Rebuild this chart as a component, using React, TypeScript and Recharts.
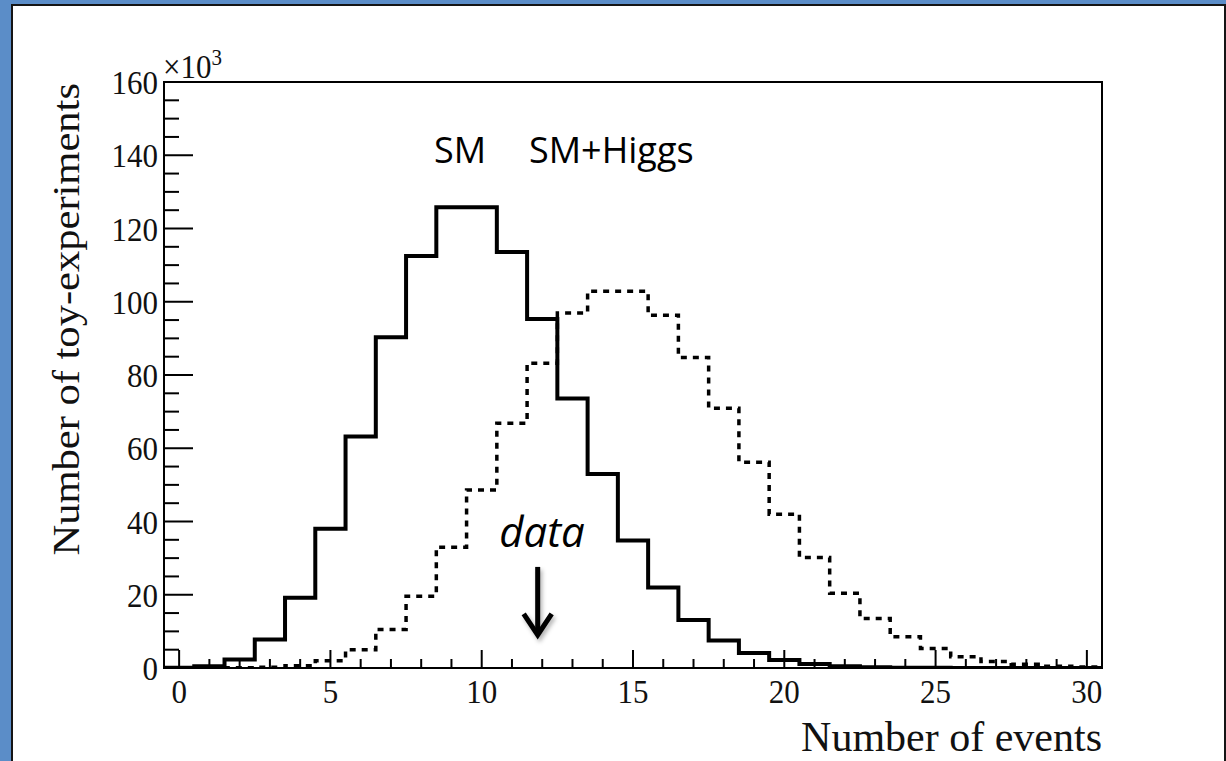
import React from 'react';
import { ComposedChart, Line, XAxis, YAxis, ReferenceArea, ReferenceLine } from 'recharts';

// toy-experiment counts (x10^3) per bin, one bin per integer number of events 0..30
const EVENTS = [0, 1, 2, 3, 4, 5, 6, 7, 8, 9, 10, 11, 12, 13, 14, 15, 16, 17, 18, 19, 20, 21, 22, 23, 24, 25, 26, 27, 28, 29, 30];
const SM_TOYS = [0.05, 0.45, 2.3, 7.8, 19.2, 38.0, 63.2, 90.3, 112.5, 125.8, 125.8, 113.6, 95.3, 73.6, 53.0, 34.8, 22.0, 13.1, 7.5, 4.1, 2.2, 1.1, 0.5, 0.2, 0.1, 0.04, 0.02, 0, 0, 0, 0];
const SMH_TOYS = [0, 0, 0.05, 0.2, 0.6, 2.0, 5.0, 10.5, 19.6, 33.0, 48.6, 66.8, 83.2, 96.9, 102.9, 102.9, 96.3, 84.8, 70.9, 56.2, 42.0, 30.2, 20.4, 13.5, 8.5, 5.3, 3.1, 1.8, 1.0, 0.5, 0.3];

// observed number of events, where the "data" arrow points
const DATA_OBS = 11.85;
const ARROW_FROM = 27.6;
const ARROW_TO = 8.5;

const X_TICKS = EVENTS;
const Y_TICKS = [0, 5, 10, 15, 20, 25, 30, 35, 40, 45, 50, 55, 60, 65, 70, 75, 80, 85, 90, 95, 100, 105, 110, 115, 120, 125, 130, 135, 140, 145, 150, 155, 160];

const SERIF = '"Liberation Serif", "Times New Roman", serif';
const SANS = '"Open Sans", "Noto Sans", sans-serif';
// the pasted figure is a bit stretched vertically
const STRETCH = 1.12;

// step histogram: one point per lower bin edge, plus the closing upper edge
const histRows = EVENTS.map((n, i) => ({ edge: n - 0.5, sm: SM_TOYS[i], smh: SMH_TOYS[i] }));
histRows.push({ edge: 30.5, sm: SM_TOYS[30], smh: SMH_TOYS[30] });

const XTick = (props: any) => {
  const { x, y, payload } = props;
  const v = payload.value;
  const major = v % 5 === 0;
  return (
    <g>
      <line x1={x} y1={y} x2={x} y2={y - (major ? 18 : 9)} stroke="#000" strokeWidth={2} />
      {major && (
        <g transform={`translate(${x} ${y + 35}) scale(1 ${STRETCH})`}>
          <text x={0} y={0} textAnchor="middle" fontFamily={SERIF} fontSize={31} fill="#111">
            {v}
          </text>
        </g>
      )}
    </g>
  );
};

const YTick = (props: any) => {
  const { x, y, payload } = props;
  const v = payload.value;
  const major = v % 20 === 0;
  return (
    <g>
      <line x1={x} y1={y} x2={x + (major ? 29 : 15)} y2={y} stroke="#000" strokeWidth={2} />
      {major && (
        <g transform={`translate(${x - 6} ${y + 12}) scale(1 ${STRETCH})`}>
          <text x={0} y={0} textAnchor="end" fontFamily={SERIF} fontSize={31} fill="#111">
            {v}
          </text>
        </g>
      )}
      {v === 160 && (
        <g transform={`translate(${x - 1} ${y - 4}) scale(1 ${STRETCH})`}>
          <text x={0} y={0} fontFamily={SERIF} fontSize={31} fill="#111">
            ×10
            <tspan fontSize={21} dy={-12}>3</tspan>
          </text>
        </g>
      )}
    </g>
  );
};

const DataArrow = (props: any) => {
  const { x1, y1, x2, y2 } = props;
  return (
    <g filter="url(#arrowShadow)">
      <defs>
        <filter id="arrowShadow" x="-50%" y="-20%" width="200%" height="150%">
          <feDropShadow dx={2} dy={3} stdDeviation={2} floodColor="#000" floodOpacity={0.3} />
        </filter>
      </defs>
      <line x1={x1} y1={y1} x2={x2} y2={y2 - 3} stroke="#000" strokeWidth={5} />
      <polyline
        points={`${x2 - 14},${y2 - 23} ${x2},${y2 - 2} ${x2 + 14},${y2 - 23}`}
        fill="none"
        stroke="#000"
        strokeWidth={5}
      />
    </g>
  );
};

export default function App() {
  return (
    <div style={{ position: 'fixed', left: 0, top: 0, width: 1226, height: 761, background: '#5b8dc8', overflow: 'hidden' }}>
      <div
        style={{
          position: 'absolute',
          left: 11,
          top: 4,
          width: 1215,
          height: 800,
          background: '#fff',
          border: '2px solid #151515',
          boxSizing: 'border-box',
        }}
      />
      <div style={{ position: 'absolute', left: 0, top: 0 }}>
        <ComposedChart width={1226} height={761} data={histRows} margin={{ top: 82, right: 124, bottom: 0, left: 0 }}>
          <XAxis
            dataKey="edge"
            type="number"
            domain={[-0.5, 30.5]}
            ticks={X_TICKS}
            interval={0}
            allowDataOverflow
            height={93}
            tickSize={0}
            tickMargin={0}
            tickLine={false}
            axisLine={{ stroke: '#000', strokeWidth: 2 }}
            tick={XTick}
            label={({ viewBox }: any) => (
              <text
                x={viewBox.x + viewBox.width}
                y={viewBox.y + 83}
                textAnchor="end"
                fontFamily={SERIF}
                fontSize={42}
                fill="#111"
              >
                Number of events
              </text>
            )}
          />
          <YAxis
            type="number"
            domain={[0, 160]}
            ticks={Y_TICKS}
            interval={0}
            allowDataOverflow
            width={164}
            tickSize={0}
            tickMargin={0}
            tickLine={false}
            axisLine={{ stroke: '#000', strokeWidth: 2 }}
            tick={YTick}
            label={({ viewBox }: any) => (
              <g transform={`translate(79 ${viewBox.y + 1}) scale(1 ${STRETCH}) rotate(-90)`}>
                <text x={0} y={0} textAnchor="end" fontFamily={SERIF} fontSize={38} fill="#111">
                  Number of toy-experiments
                </text>
              </g>
            )}
          />
          <ReferenceArea x1={-0.5} x2={30.5} y1={0} y2={160} fill="none" stroke="#000" strokeWidth={2} />
          <Line
            type="stepAfter"
            dataKey="smh"
            stroke="#000"
            strokeWidth={3.5}
            strokeDasharray="6 6"
            dot={false}
            activeDot={false}
            isAnimationActive={false}
          />
          <Line
            type="stepAfter"
            dataKey="sm"
            stroke="#000"
            strokeWidth={4}
            dot={false}
            activeDot={false}
            isAnimationActive={false}
          />
          <ReferenceLine
            segment={[
              { x: DATA_OBS, y: ARROW_FROM },
              { x: DATA_OBS, y: ARROW_TO },
            ]}
            shape={DataArrow}
          />
        </ComposedChart>
      </div>
      <svg width={1226} height={761} style={{ position: 'absolute', left: 0, top: 0, pointerEvents: 'none' }}>
        <text x={434} y={163} fontFamily={SANS} fontSize={36} fill="#000">
          SM
        </text>
        <text x={529} y={163} fontFamily={SANS} fontSize={36} fill="#000">
          SM+Higgs
        </text>
        <text x={542} y={547} textAnchor="middle" fontFamily={SANS} fontStyle="italic" fontSize={42} fill="#000">
          data
        </text>
      </svg>
    </div>
  );
}
